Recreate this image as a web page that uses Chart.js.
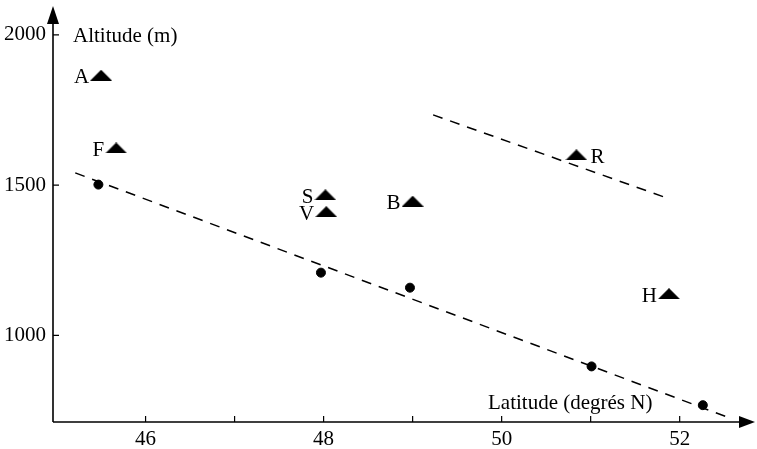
<!DOCTYPE html>
<html>
<head>
<meta charset="utf-8">
<script src="https://cdn.jsdelivr.net/npm/chart.js@4.4.0/dist/chart.umd.min.js"></script>
<style>
  html, body { margin: 0; padding: 0; background: #fff; overflow: hidden; }
  canvas { display: block; }
</style>
</head>
<body>
<canvas id="mycanvas" width="757" height="449"></canvas>
<script>
// stations (triangles)
var stationNames = ['A', 'F', 'S', 'V', 'B', 'R', 'H'];
var stationLat = [45.50, 45.67, 48.02, 48.03, 49.00, 50.84, 51.88];
var stationAlt = [1866, 1624, 1468, 1412, 1447, 1601, 1139];
var labelSide = ['left', 'left', 'left', 'left', 'left', 'right', 'left'];

// points (circles)
var pointLat = [45.47, 47.97, 48.97, 51.01, 52.26];
var pointAlt = [1502, 1209, 1159, 897, 768];

// dashed lines
var lowerLat = [45.21, 52.53];
var lowerAlt = [1541, 729];
var upperLat = [49.23, 51.89];
var upperAlt = [1734, 1454];

var xTicks = [46, 47, 48, 49, 50, 51, 52];
var xLabels = [46, 48, 50, 52];
var yTicks = [1000, 1500, 2000];

var FONT = '"Liberation Serif", "DejaVu Serif", serif';
Chart.defaults.font.family = FONT;
Chart.defaults.font.size = 21;
Chart.defaults.color = '#000';

function toXY(xs, ys) {
	var out = [];
	for (var i in xs) out.push({x: xs[i], y: ys[i]});
	return out;
}

// flat black triangle marker
var tri = document.createElement('canvas');
tri.width = 22; tri.height = 11;
var tctx = tri.getContext('2d');
tctx.fillStyle = '#000';
tctx.beginPath();
tctx.moveTo(11, 0);
tctx.lineTo(22, 11);
tctx.lineTo(0, 11);
tctx.closePath();
tctx.fill();

var axesPlugin = {
	id: 'axesPlugin',
	afterDraw: function(chart) {
		var ctx = chart.ctx;
		var xs = chart.scales.x, ys = chart.scales.y;
		var ox = xs.left, oy = ys.bottom;
		var tip = chart.width - 2;
		ctx.save();
		ctx.strokeStyle = '#000';
		ctx.fillStyle = '#000';
		ctx.lineWidth = 1.6;
		// axis lines
		ctx.beginPath();
		ctx.moveTo(ox, oy);
		ctx.lineTo(ox, ys.top + 4);
		ctx.moveTo(ox, oy);
		ctx.lineTo(tip - 5, oy);
		ctx.stroke();
		// arrow heads
		ctx.beginPath();
		ctx.moveTo(ox, ys.top - 1);
		ctx.lineTo(ox - 6, ys.top + 17);
		ctx.lineTo(ox + 6, ys.top + 17);
		ctx.closePath();
		ctx.fill();
		ctx.beginPath();
		ctx.moveTo(tip, oy);
		ctx.lineTo(tip - 16, oy - 6);
		ctx.lineTo(tip - 16, oy + 6);
		ctx.closePath();
		ctx.fill();
		// ticks
		ctx.lineWidth = 1.2;
		ctx.beginPath();
		xTicks.forEach(function(v) {
			var px = xs.getPixelForValue(v);
			ctx.moveTo(px, oy);
			ctx.lineTo(px, oy - 6);
		});
		yTicks.forEach(function(v) {
			var py = ys.getPixelForValue(v);
			ctx.moveTo(ox, py);
			ctx.lineTo(ox + 6, py);
		});
		ctx.stroke();
		// axis titles
		ctx.font = '21px ' + FONT;
		ctx.textBaseline = 'alphabetic';
		ctx.textAlign = 'left';
		ctx.fillText('Altitude (m)', ox + 20, ys.getPixelForValue(2000) + 7);
		ctx.fillText('Latitude (degrés N)', 488, oy - 13);
		// station labels
		var meta = chart.getDatasetMeta(1);
		meta.data.forEach(function(el, i) {
			if (labelSide[i] == 'right') {
				ctx.textAlign = 'left';
				ctx.fillText(stationNames[i], el.x + 14, el.y + 8);
			} else {
				ctx.textAlign = 'right';
				ctx.fillText(stationNames[i], el.x - 12, el.y + 8);
			}
		});
		ctx.restore();
	}
};

var chartdata = {
	datasets: [
		{
			label: 'points',
			data: toXY(pointLat, pointAlt),
			pointStyle: 'circle',
			pointRadius: 4.5,
			backgroundColor: '#000',
			borderColor: '#000',
			showLine: false
		},
		{
			label: 'stations',
			data: toXY(stationLat, stationAlt),
			pointStyle: tri,
			pointRadius: 6,
			showLine: false
		},
		{
			label: 'lower',
			data: toXY(lowerLat, lowerAlt),
			showLine: true,
			pointRadius: 0,
			borderColor: '#000',
			borderWidth: 1.5,
			borderDash: [10, 8]
		},
		{
			label: 'upper',
			data: toXY(upperLat, upperAlt),
			showLine: true,
			pointRadius: 0,
			borderColor: '#000',
			borderWidth: 1.5,
			borderDash: [10, 8]
		}
	]
};

var ctx = document.getElementById('mycanvas');

var scatter = new Chart(ctx, {
	type: 'scatter',
	data: chartdata,
	plugins: [axesPlugin],
	options: {
		responsive: false,
		animation: false,
		devicePixelRatio: 1,
		layout: { padding: { top: 5, right: 2, left: 0, bottom: 0 } },
		plugins: {
			legend: { display: false },
			tooltip: { enabled: false }
		},
		scales: {
			x: {
				type: 'linear',
				min: 44.96,
				max: 52.79,
				grid: { display: false, drawTicks: false },
				border: { display: false },
				afterFit: function(s) {
					s.height = 27;
					s.paddingLeft = 0; s.paddingRight = 0;
				},
				afterBuildTicks: function(s) {
					s.ticks = xLabels.map(function(v) { return {value: v}; });
				},
				ticks: {
					color: '#000',
					padding: 5,
					maxRotation: 0,
					font: { family: FONT, size: 21 },
					callback: function(v) { return String(v); }
				}
			},
			y: {
				type: 'linear',
				min: 712,
				max: 2093,
				grid: { display: false, drawTicks: false },
				border: { display: false },
				afterFit: function(s) {
					s.width = 53;
					s.paddingTop = 0; s.paddingBottom = 0;
				},
				afterBuildTicks: function(s) {
					s.ticks = yTicks.map(function(v) { return {value: v}; });
				},
				ticks: {
					color: '#000',
					padding: 7,
					font: { family: FONT, size: 21 },
					callback: function(v) { return String(v); }
				}
			}
		}
	}
});
</script>
</body>
</html>
